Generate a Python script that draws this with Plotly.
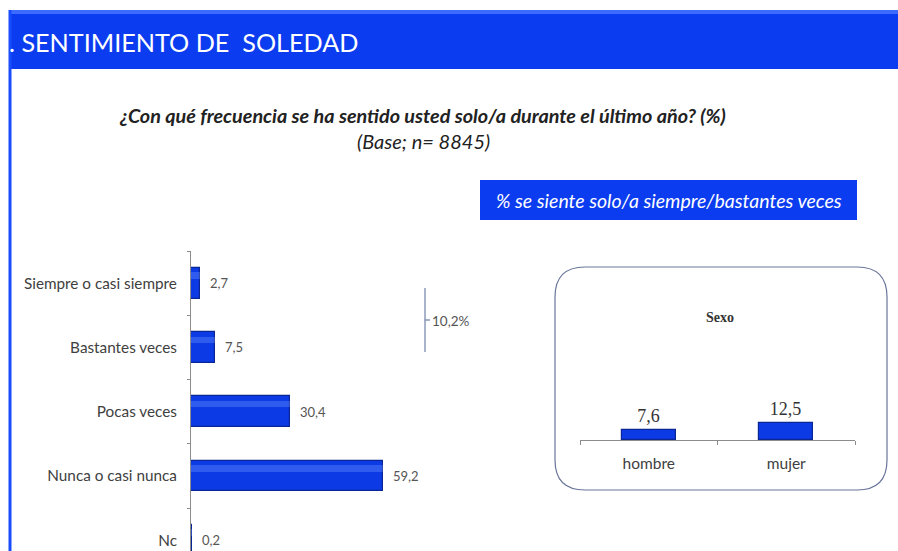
import plotly.graph_objects as go

# --- data -------------------------------------------------------------
categories = ["Siempre o casi siempre", "Bastantes veces", "Pocas veces",
              "Nunca o casi nunca", "Nc"]
values = [2.7, 7.5, 30.4, 59.2, 0.2]

sex_categories = ["hombre", "mujer"]
sex_values = [7.6, 12.5]

header_text = "SENTIMIENTO DE\u00a0\u00a0SOLEDAD"
question = "¿Con qué frecuencia se ha sentido usted solo/a durante el último año? (%)"
base_text = "(Base; n= 8845)"
box_text = "% se siente solo/a siempre/bastantes veces"
panel_title = "Sexo"

# --- geometry helpers (pixel -> paper) --------------------------------
W, H = 898, 551


def fx(px):
    return px / W


def fy(py):
    return 1 - py / H


def fmt(v):
    return f"{v:.1f}".replace(".", ",")


BLUE = "#0b3cf0"
BAR = "#0c3be6"
BAR_EDGE = "#0a2594"
SHINE = "rgba(120,160,255,0.32)"
FONT = "Lato"

fig = go.Figure()

# main horizontal bars, with a soft highlight stripe
fig.add_trace(go.Bar(
    x=values, y=categories, orientation="h", width=0.48,
    marker=dict(color=BAR, line=dict(color=BAR_EDGE, width=1.2)),
    xaxis="x", yaxis="y", hoverinfo="skip", showlegend=False,
))
fig.add_trace(go.Bar(
    x=values, y=categories, orientation="h", width=0.1, offset=-0.17,
    marker=dict(color=SHINE, line=dict(width=0)),
    xaxis="x", yaxis="y", hoverinfo="skip", showlegend=False,
))

# bars by sex
fig.add_trace(go.Bar(
    x=sex_categories, y=sex_values, width=0.39,
    marker=dict(color=BAR, line=dict(color=BAR_EDGE, width=1.2)),
    text=[fmt(v) for v in sex_values], textposition="outside",
    textfont=dict(family="Liberation Serif", size=18, color="#333333"),
    cliponaxis=False,
    xaxis="x2", yaxis="y2", hoverinfo="skip", showlegend=False,
))

annotations = []
# value labels of the main bars
for c, v in zip(categories, values):
    annotations.append(dict(
        x=v, y=c, xref="x", yref="y", text=fmt(v), showarrow=False,
        xanchor="left", yanchor="middle", xshift=8,
        font=dict(family=FONT, size=13, color="#555555"),
    ))

# header
shapes = [
    dict(type="rect", xref="paper", yref="paper", x0=fx(10), x1=1, y0=fy(69), y1=fy(10),
         fillcolor=BLUE, line=dict(width=0), layer="below"),
    dict(type="rect", xref="paper", yref="paper", x0=fx(10), x1=1, y0=fy(14), y1=fy(10),
         fillcolor="#3d6bff", line=dict(width=0), layer="below"),
    dict(type="line", xref="paper", yref="paper", x0=fx(10), x1=fx(10), y0=0, y1=fy(10),
         line=dict(color="#1a4cff", width=3)),
]
annotations.append(dict(
    x=fx(7), y=fy(42), xref="paper", yref="paper", xanchor="left", yanchor="middle",
    text=".\u00a0" + header_text, showarrow=False,
    font=dict(family=FONT, size=25.2, color="white"),
))

# question title
annotations.append(dict(
    x=fx(422), y=fy(115), xref="paper", yref="paper", xanchor="center", yanchor="middle",
    text=f"<b><i>{question}</i></b>",
    showarrow=False, font=dict(family=FONT, size=19.8, color="#222222"),
))
annotations.append(dict(
    x=fx(423), y=fy(141), xref="paper", yref="paper", xanchor="center", yanchor="middle",
    text=f"<i>{base_text}</i>",
    showarrow=False, font=dict(family=FONT, size=20, color="#222222"),
))

# highlighted box
shapes.append(dict(type="rect", xref="paper", yref="paper", x0=fx(480), x1=fx(857),
                   y0=fy(220), y1=fy(180), fillcolor=BLUE, line=dict(width=0)))
annotations.append(dict(
    x=fx(669), y=fy(200), xref="paper", yref="paper", xanchor="center", yanchor="middle",
    text=f"<i>{box_text}</i>",
    showarrow=False, font=dict(family=FONT, size=19.5, color="white"),
))

# bracket grouping the first two answers
group_total = values[0] + values[1]
bx, by0, by1, bm = 425, 288, 352, 320
shapes.append(dict(type="line", xref="paper", yref="paper", x0=fx(bx), x1=fx(bx),
                   y0=fy(by1), y1=fy(by0), line=dict(color="#7080a8", width=1.2)))
shapes.append(dict(type="line", xref="paper", yref="paper", x0=fx(bx), x1=fx(bx + 5),
                   y0=fy(bm), y1=fy(bm), line=dict(color="#7080a8", width=1.2)))
annotations.append(dict(
    x=fx(bx + 5), y=fy(bm + 1), xref="paper", yref="paper", xanchor="left", yanchor="middle",
    text=f"{fmt(group_total)}%", showarrow=False,
    font=dict(family=FONT, size=13.5, color="#555555"),
))

# rounded panel around the sex chart
x0, y0, x1, y1, r = 555, 267, 887, 490, 30
pts = [
    ("M", (x0 + r, y0)), ("L", (x1 - r, y0)), ("Q", (x1, y0), (x1, y0 + r)),
    ("L", (x1, y1 - r)), ("Q", (x1, y1), (x1 - r, y1)), ("L", (x0 + r, y1)),
    ("Q", (x0, y1), (x0, y1 - r)), ("L", (x0, y0 + r)), ("Q", (x0, y0), (x0 + r, y0)),
]
path = ""
for cmd, *ps in pts:
    path += cmd + " ".join(f"{fx(px):.5f},{fy(py):.5f}" for px, py in ps) + " "
path += "Z"
shapes.append(dict(type="path", xref="paper", yref="paper", path=path,
                   line=dict(color="#6a7699", width=1.2)))
annotations.append(dict(
    x=fx(720), y=fy(317), xref="paper", yref="paper", xanchor="center", yanchor="middle",
    text=f"<b>{panel_title}</b>",
    showarrow=False, font=dict(family="Liberation Serif", size=14, color="#333333"),
))

fig.update_layout(
    width=W, height=H, margin=dict(l=0, r=0, t=0, b=0),
    paper_bgcolor="white", plot_bgcolor="white",
    barmode="overlay", bargap=0, shapes=shapes, annotations=annotations,
    xaxis=dict(domain=[fx(191), fx(191 + 100 * 3.25)], range=[0, 100], visible=False,
               fixedrange=True),
    yaxis=dict(domain=[0, fy(251)], range=[4.166, -0.5], type="category",
               categoryorder="array", categoryarray=categories,
               showline=True, linecolor="#8c8c8c", linewidth=1,
               ticks="outside", tickson="boundaries", ticklen=3, tickcolor="#8c8c8c",
               ticklabelstandoff=10, showgrid=False, zeroline=False,
               tickfont=dict(family=FONT, size=15.3, color="#404040")),
    xaxis2=dict(domain=[fx(580), fx(855)], range=[-0.5, 1.5], anchor="y2",
                type="category", showline=True, linecolor="#8c8c8c", linewidth=1,
                ticks="outside", tickson="boundaries", ticklen=4, tickcolor="#8c8c8c",
                ticklabelstandoff=9, showgrid=False,
                tickfont=dict(family=FONT, size=15.5, color="#404040")),
    yaxis2=dict(domain=[fy(440), fy(440 - 54)], range=[0, 40], anchor="x2",
                visible=False),
)

fig.write_html("out.html")
